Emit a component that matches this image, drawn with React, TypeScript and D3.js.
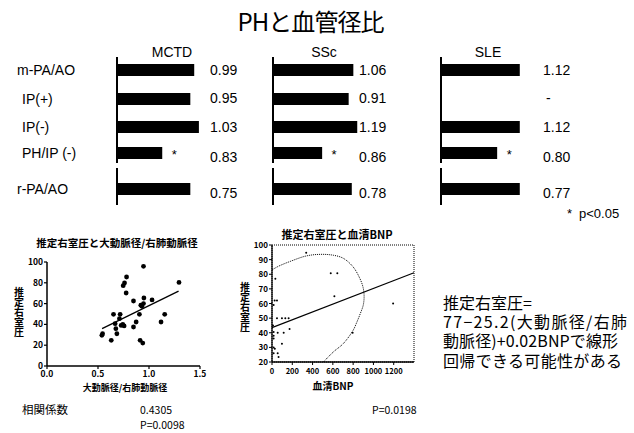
import React from "react";
import * as d3 from "d3";

// ---- top table: PH and vessel diameter ratio ----
const groups = ["MCTD", "SSc", "SLE"];
const rowLabels = ["m-PA/AO", "IP(+)", "IP(-)", "PH/IP (-)", "r-PA/AO"];
// printed ratios (null = no data)
const ratioMCTD = [0.99, 0.95, 1.03, 0.83, 0.75];
const ratioSSc = [1.06, 0.91, 1.19, 0.86, 0.78];
const ratioSLE = [1.12, null, 1.12, 0.8, 0.77];
// drawn bar lengths (relative units)
const barMCTD = [0.99, 0.94, 1.05, 0.58, 0.94];
const barSSc = [1.03, 0.97, 1.08, 0.63, 1.01];
const barSLE = [1.01, null, 1.01, 0.72, 1.01];
const signif = [false, false, false, true, false];

// ---- left scatter: RVSP vs AO/RPA ----
const aoRatio = [0.946, 0.78, 0.76, 0.747, 0.776, 1.294, 0.848, 0.95, 0.946, 0.93, 1.03, 0.652, 0.717, 1.154, 0.906, 0.71, 1.118, 0.874, 0.668, 0.743, 0.756, 0.848, 0.675, 0.685, 0.545, 0.538, 0.63, 0.913, 0.939, 0.727, 0.92];
const rvspA = [95.8, 85.6, 79.8, 77.2, 70.2, 80.4, 62.5, 65.4, 60, 57.4, 63.5, 49.7, 49.7, 49.7, 49.7, 45.5, 42.3, 42.3, 40.7, 40, 38.5, 37.5, 35.9, 31, 31, 29.5, 24.7, 24.7, 22, 39, 58.5];
const regA = [[0.54, 36], [1.29, 72]];

// ---- middle scatter: RVSP vs BNP ----
const bnp = [337, 579, 644, 615, 1194, 33, 26, 49, 16, 49, 98, 131, 164, 16, 56, 115, 173, 795, 98, 16, 28, 16, 56, 65, 16, 16, 10];
const rvspB = [94.7, 80.6, 80.6, 65, 60, 77, 62, 62, 59, 50, 50, 50, 50, 40.5, 40, 40, 42.5, 40, 32.5, 30, 29, 26, 26, 23.5, 36, 38, 45];
const regB = [[0, 43.5], [1400, 81]];
const ellipseB = [[0, 83], [65, 85.5], [180, 88.8], [337, 92.5], [474, 93.6], [605, 93], [703, 90.9], [800, 85], [867, 77], [898, 71], [908, 65], [900, 59], [870, 53], [835, 47], [800, 41.7], [703, 32.6], [605, 26.9], [507, 20]];

const formulaLines = ["推定右室圧=", "77−25.2(大動脈径/右肺", "動脈径)+0.02BNPで線形", "回帰できる可能性がある"];

const JP = "'Noto Sans CJK JP', 'Noto Sans', sans-serif";
const NARROW = "'Liberation Sans Narrow', 'Liberation Sans', sans-serif";

function TopTable() {
  const axisX = d3.scaleOrdinal<string, number>().domain(groups).range([117, 273, 441]);
  const valueX = d3.scaleOrdinal<string, number>().domain(groups).range([210, 359, 543]);
  const headX = d3.scaleOrdinal<string, number>().domain(groups).range([172, 324, 488]);
  const rowY = d3.scaleOrdinal<string, number>().domain(rowLabels).range([70, 99, 127, 153, 189]);
  const valY = d3.scaleOrdinal<string, number>().domain(rowLabels).range([70, 98, 127, 157, 193]);
  const labelX = d3.scaleOrdinal<string, number>().domain(rowLabels).range([17, 22, 22, 22, 17]);
  const len = d3.scaleLinear().domain([0, 1]).range([0, 78]);
  const fmt = d3.format(".2f");
  const bars = [barMCTD, barSSc, barSLE];
  const ratios = [ratioMCTD, ratioSSc, ratioSLE];
  const barH = 12;

  return (
    <g>
      <text x={311} y={31} textAnchor="middle" fontFamily={JP} fontSize={24} textLength={147} lengthAdjust="spacing">PHと血管径比</text>
      {groups.map((g) => (
        <text key={g} x={headX(g)} y={57} textAnchor="middle" fontFamily={NARROW} fontSize={14}>{g}</text>
      ))}
      {rowLabels.map((r) => (
        <text key={r} x={labelX(r)} y={rowY(r) + 5} fontFamily={NARROW} fontSize={14}>{r}</text>
      ))}
      {groups.map((g, gi) => (
        <g key={g}>
          <line x1={axisX(g)} x2={axisX(g)} y1={57} y2={163} stroke="#000" strokeWidth={2} />
          <line x1={axisX(g)} x2={axisX(g)} y1={168} y2={205} stroke="#000" strokeWidth={2} />
          {rowLabels.map((r, ri) => {
            const b = bars[gi][ri];
            const v = ratios[gi][ri];
            return (
              <g key={r}>
                {b != null && (
                  <rect x={axisX(g)} y={rowY(r) - barH / 2} width={len(b)} height={barH} fill="#000" />
                )}
                {b != null && signif[ri] && (
                  <text x={axisX(g) + len(b) + 12} y={rowY(r) + 6} textAnchor="middle" fontFamily={NARROW} fontSize={13}>*</text>
                )}
                <text x={v == null ? valueX(g) + 3 : valueX(g)} y={valY(r) + 5} fontFamily={NARROW} fontSize={14}>
                  {v == null ? "-" : fmt(v)}
                </text>
              </g>
            );
          })}
        </g>
      ))}
      <text x={567} y={218} fontFamily={NARROW} fontSize={13}>*</text>
      <text x={579} y={218} fontFamily={NARROW} fontSize={13}>p&lt;0.05</text>
    </g>
  );
}

// upright characters stacked top to bottom, one text element
function VerticalLabel({ x, y, text, size }: { x: number; y: number; text: string; size: number }) {
  return (
    <text x={x} y={y} fontFamily={JP} fontSize={size} fontWeight="bold"
      style={{ writingMode: "vertical-rl", textOrientation: "upright" } as React.CSSProperties}>{text}</text>
  );
}

function ScatterAO() {
  const x = d3.scaleLinear().domain([0, 1.5]).range([47, 200]);
  const y = d3.scaleLinear().domain([0, 100]).range([366, 262]);
  const line = d3.line<number[]>().x((d) => x(d[0])).y((d) => y(d[1]));
  return (
    <g fontFamily={JP} fontWeight="bold">
      <text x={117} y={247} textAnchor="middle" fontSize={10.5}>推定右室圧と大動脈径/右肺動脈径</text>
      <line x1={x(0)} x2={x(1.5)} y1={y(0)} y2={y(0)} stroke="#000" strokeWidth={1.5} />
      <line x1={x(0)} x2={x(0)} y1={y(0)} y2={y(100)} stroke="#000" strokeWidth={1.5} />
      {x.ticks(3).map((t) => (
        <g key={t}>
          <line x1={x(t)} x2={x(t)} y1={y(0)} y2={y(0) + 3} stroke="#000" strokeWidth={1.2} />
          <text x={x(t)} y={y(0) + 11} textAnchor="middle" fontSize={8.5}>{d3.format(".1f")(t)}</text>
        </g>
      ))}
      {y.ticks(5).map((t) => (
        <g key={t}>
          <line x1={x(0) - 3} x2={x(0)} y1={y(t)} y2={y(t)} stroke="#000" strokeWidth={1.2} />
          <text x={x(0) - 4} y={y(t) + 3} textAnchor="end" fontSize={8.5}>{t}</text>
        </g>
      ))}
      <path d={line(regA) ?? ""} stroke="#000" strokeWidth={1.3} fill="none" />
      {aoRatio.map((v, i) => (
        <circle key={i} cx={x(v)} cy={y(rvspA[i])} r={2.4} fill="#000" />
      ))}
      <text x={125} y={391} textAnchor="middle" fontSize={9}>大動脈径/右肺動脈径</text>
      <VerticalLabel x={19} y={287} text="推定右室圧" size={10} />
    </g>
  );
}

function ScatterBNP() {
  const x = d3.scaleLinear().domain([0, 1400]).range([272, 414]);
  const y = d3.scaleLinear().domain([20, 100]).range([362, 245]);
  const line = d3.line<number[]>().x((d) => x(d[0])).y((d) => y(d[1]));
  const curve = d3.line<number[]>().x((d) => x(d[0])).y((d) => y(d[1])).curve(d3.curveCatmullRom);
  return (
    <g fontFamily={JP} fontWeight="bold">
      <text x={337} y={239} textAnchor="middle" fontSize={11}>推定右室圧と血清BNP</text>
      <rect x={x(0)} y={y(100)} width={x(1400) - x(0)} height={y(20) - y(100)} fill="none" stroke="#000" strokeWidth={1} strokeDasharray="1,1" />
      <line x1={x(0)} x2={x(1400)} y1={y(20)} y2={y(20)} stroke="#000" strokeWidth={1.3} />
      <line x1={x(0)} x2={x(0)} y1={y(20)} y2={y(100)} stroke="#000" strokeWidth={1.3} />
      {d3.range(0, 1201, 200).map((t) => (
        <g key={t}>
          <line x1={x(t)} x2={x(t)} y1={y(20)} y2={y(20) + 3} stroke="#000" />
          <text x={x(t)} y={y(20) + 12} textAnchor="middle" fontSize={7.5}>{t}</text>
        </g>
      ))}
      {d3.range(20, 101, 10).map((t) => (
        <g key={t}>
          <line x1={x(0) - 3} x2={x(0)} y1={y(t)} y2={y(t)} stroke="#000" />
          <text x={x(0) - 4} y={y(t) + 3} textAnchor="end" fontSize={8}>{t}</text>
        </g>
      ))}
      <path d={curve(ellipseB) ?? ""} stroke="#000" strokeWidth={1} strokeDasharray="1,1" fill="none" />
      <path d={line(regB) ?? ""} stroke="#000" strokeWidth={1.1} fill="none" />
      {bnp.map((v, i) => (
        <circle key={i} cx={x(v)} cy={y(rvspB[i])} r={1} fill="#000" />
      ))}
      <text x={333} y={390} textAnchor="middle" fontSize={10}>血清BNP</text>
      <VerticalLabel x={245} y={282} text="推定右室圧" size={10} />
    </g>
  );
}

export default function App() {
  return (
    <svg width={634} height={433} style={{ position: "absolute", left: 0, top: 0, background: "#fff" }}>
      <rect width={634} height={433} fill="#fff" />
      <TopTable />
      <ScatterAO />
      <ScatterBNP />
      <g fontFamily={JP} fill="#000">
        <text x={22} y={414} fontSize={11.5}>相関係数</text>
        <text x={140} y={414} fontSize={10.5}>0.4305</text>
        <text x={140} y={429} fontSize={10.5}>P=0.0098</text>
        <text x={372} y={414} fontSize={10.5}>P=0.0198</text>
      </g>
      <g fontFamily={JP} fontSize={16} fill="#000">
        {formulaLines.map((l, i) => (
          <text key={i} x={443} y={309 + i * 19.2}
            textLength={i === 0 ? 89 : i === 3 ? 179 : i === 1 ? 184 : 175} lengthAdjust="spacing">{l}</text>
        ))}
      </g>
    </svg>
  );
}
